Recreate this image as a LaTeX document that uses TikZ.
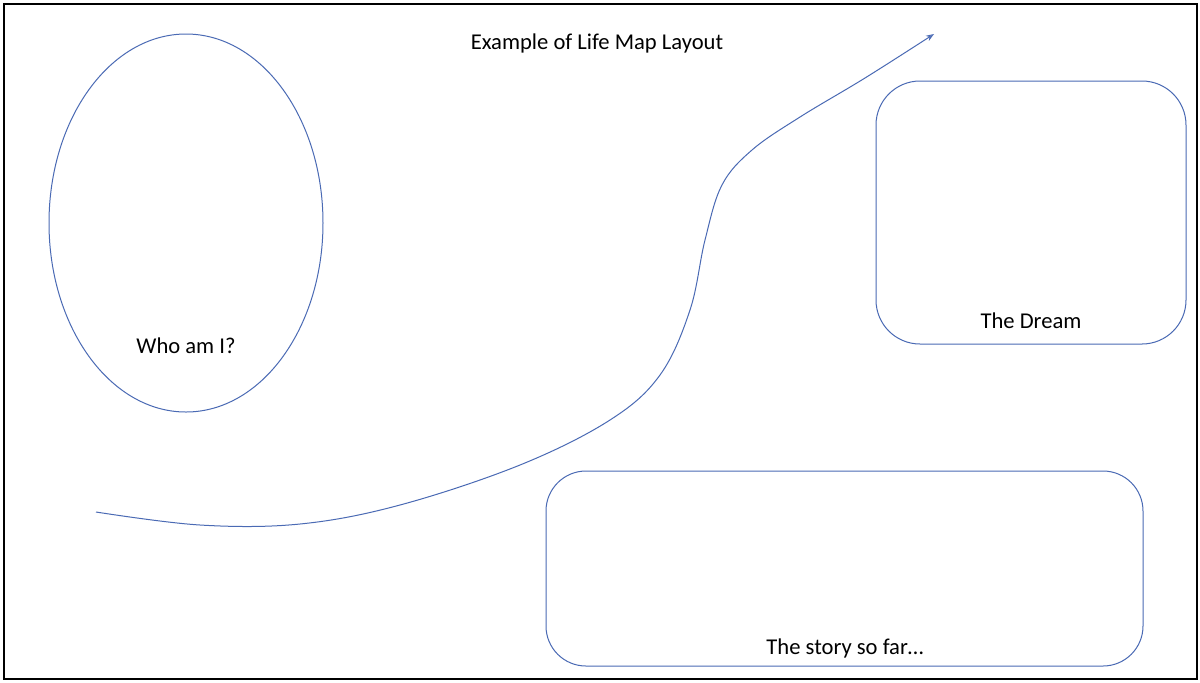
\documentclass[tikz,border=0pt]{standalone}
\usepackage{fontspec}
\setmainfont{Carlito}
\usetikzlibrary{arrows.meta}
\definecolor{lineblue}{HTML}{4A6AB4}
\begin{document}
\begin{tikzpicture}[x=0.5pt,y=-0.5pt,
  shapeline/.style={draw=lineblue,line width=0.5pt},
  lbl/.style={font=\fontsize{11.3}{13}\selectfont,text=black,inner sep=0pt}]
\useasboundingbox (0,0) rectangle (1200,682);
\fill[white] (0,0) rectangle (1200,682);
\draw[black,line width=1.1pt] (4,4) rectangle (1197,679);
% title
\node[lbl] (title) at (597,43) {Example of Life Map Layout};
% ellipse
\draw[shapeline] (186,223) ellipse [x radius=137,y radius=189];
\node[lbl] (who) at (186,346) {Who am I?};
% dream box
\draw[shapeline,rounded corners=22pt] (876,81) rectangle (1186,344);
\node[lbl] (dream) at (1031,321) {The Dream};
% story box
\draw[shapeline,rounded corners=20pt] (546,471) rectangle (1143,666);
\node[lbl] (story) at (845,648) {The story so far…};
% path
\coordinate (s) at (96,512);
\coordinate (e) at (934,34);
\draw[shapeline,-{Stealth[length=4pt,width=3pt,open]}] plot[smooth,tension=0.6] coordinates {
(96,512) (200,525) (300,524) (400,505) (520,465) (610,420) (660,375) (690,310) (705,240) (722,185) (752,150) (800,117) (865,78) (934,34)};
\end{tikzpicture}
\end{document}
